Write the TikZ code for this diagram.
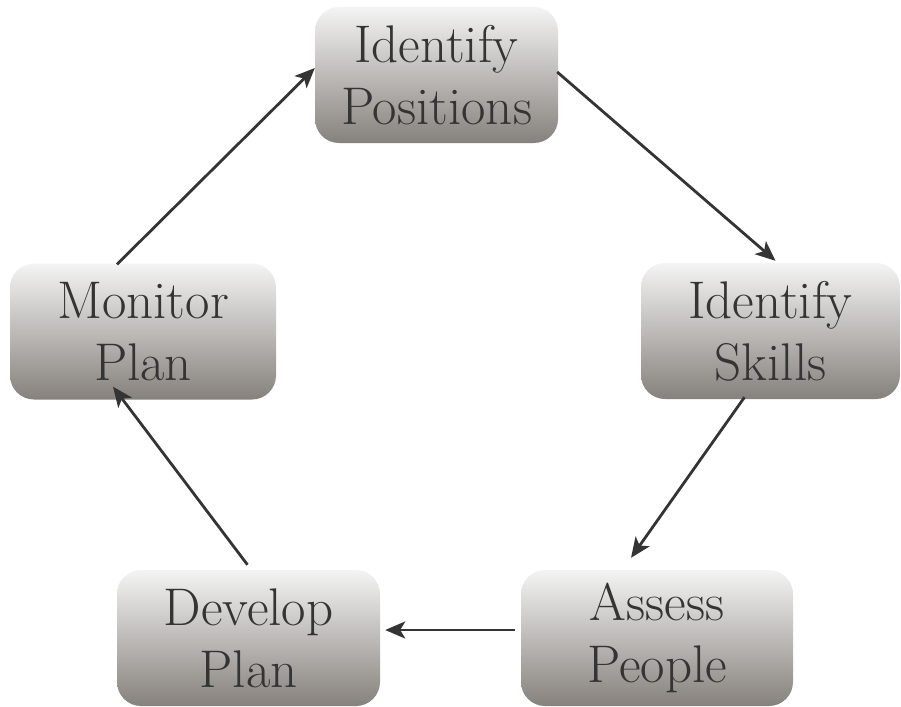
\documentclass[tikz,border=0pt]{standalone}
\usetikzlibrary{arrows.meta}
\definecolor{boxtop}{RGB}{244,244,244}
\definecolor{boxbot}{RGB}{134,129,124}
\definecolor{inkgray}{RGB}{52,52,52}
\begin{document}
\begin{tikzpicture}[x=1pt,y=-1pt,
	stage/.style={rounded corners=24pt,top color=boxtop,bottom color=boxbot,text=inkgray,
		align=center,inner sep=0pt,minimum height=136pt,font=\fontsize{53}{62}\selectfont},
	flow/.style={-{Stealth[length=20pt,width=17pt,inset=5pt]},line width=2.8pt,draw=inkgray}]
	\useasboundingbox (0,0) rectangle (901,706) ;
	% les etapes
	\node[stage,minimum width=243pt] (ip) at (436.5,75) {Identify\\Positions} ;
	\node[stage,minimum width=259pt] (is) at (770.5,331) {Identify\\Skills} ;
	\node[stage,minimum width=272pt] (ap) at (657,638) {Assess\\People} ;
	\node[stage,minimum width=263pt] (dp) at (248.5,638) {Develop\\Plan} ;
	\node[stage,minimum width=266pt] (mp) at (143,331.5) {Monitor\\Plan} ;
	% les fleches
	\draw[flow] ([xshift=-26pt,yshift=-1pt]mp.north) -- ([yshift=7pt]ip.west) ;
	\draw[flow] ([xshift=-1pt,yshift=3pt]ip.east) -- ([xshift=5pt,yshift=2pt]is.north) ;
	\draw[flow] ([xshift=-26pt,yshift=2pt]is.south) -- ([xshift=-26pt,yshift=12pt]ap.north) ;
	\draw[flow] ([xshift=-6pt,yshift=8pt]ap.west) -- ([xshift=5pt,yshift=8pt]dp.east) ;
	\draw[flow] ([xshift=-1pt,yshift=5pt]dp.north) -- ([xshift=-30pt,yshift=13pt]mp.south) ;
\end{tikzpicture}
\end{document}
